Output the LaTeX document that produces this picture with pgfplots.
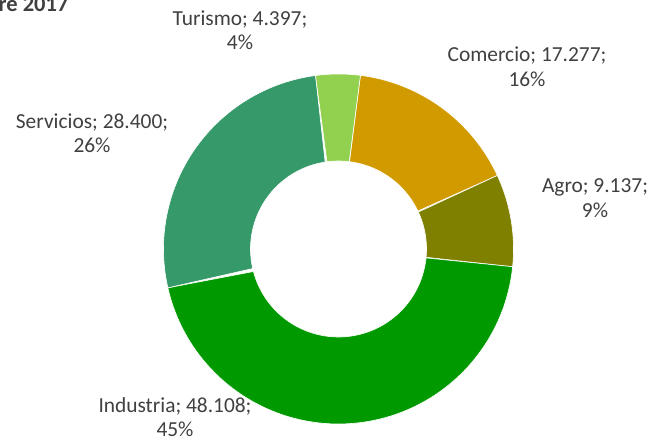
\documentclass[border=0pt]{standalone}
\usepackage{pgfplots}
\pgfplotsset{compat=1.18}
\usepackage{fontspec}
\setmainfont{Carlito}
\definecolor{cTur}{HTML}{92D050}
\definecolor{cCom}{HTML}{D19B00}
\definecolor{cAgr}{HTML}{808000}
\definecolor{cInd}{HTML}{009A00}
\definecolor{cSer}{HTML}{36996A}
\definecolor{txt}{HTML}{404040}
% data
\def\vCom{17.277}
\def\vAgr{9.137}
\def\vInd{48.108}
\def\vSer{28.400}
\def\vTur{4.397}
\def\startang{7.2}
\def\cx{338.5}\def\cy{193}\def\Ro{175}\def\Ri{88}
\newcommand\slice[3]{% start, end (deg clockwise from top), colour
  \addplot[fill=#3, draw=white, line width=0.6pt, domain=0:2, samples=161, variable=\t]
  ({\cx + ifthenelse(\t<=1.0001,\Ro,\Ri)*sin(ifthenelse(\t<=1.0001, #1+\t*(#2-#1), #2-(\t-1)*(#2-#1)))},
   {\cy + ifthenelse(\t<=1.0001,\Ro,\Ri)*cos(ifthenelse(\t<=1.0001, #1+\t*(#2-#1), #2-(\t-1)*(#2-#1)))}) -- cycle;
}
\newcommand\lab[5]{% x, y1, y2, line1, line2
  \node[anchor=base, text=txt, font=\fontsize{21.4}{24.5}\selectfont] at (axis cs:#1,#2) {#4};
  \node[anchor=base, text=txt, font=\fontsize{21.4}{24.5}\selectfont] at (axis cs:#1,#3) {#5};
}
\begin{document}
\begin{tikzpicture}
\pgfmathsetmacro\tot{\vCom+\vAgr+\vInd+\vSer+\vTur}
\pgfmathsetmacro\aA{\startang}
\pgfmathsetmacro\aB{\aA+360*(\vCom/\tot)}
\pgfmathsetmacro\aC{\aB+360*(\vAgr/\tot)}
\pgfmathsetmacro\aD{\aC+360*(\vInd/\tot)}
\pgfmathsetmacro\aE{\aD+360*(\vSer/\tot)}
\pgfmathsetmacro\aF{\aE+360*(\vTur/\tot)}
\begin{axis}[name=ax, scale only axis,
  width=652pt, height=442pt, xmin=0, xmax=652, ymin=0, ymax=442,
  hide axis, clip=false]
\slice{\aA}{\aB}{cCom}
\slice{\aB}{\aC}{cAgr}
\slice{\aC}{\aD}{cInd}
\slice{\aD}{\aE}{cSer}
\slice{\aE}{\aF}{cTur}
\lab{240}{416}{392}{Turismo; 4.397;}{4\%}
\lab{527}{380}{355}{Comercio; 17.277;}{16\%}
\lab{595}{249}{224}{Agro; 9.137;}{9\%}
\lab{92}{313}{289}{Servicios; 28.400;}{26\%}
\lab{175}{30}{6}{Industria; 48.108;}{45\%}
\node[anchor=base east, text=txt, font=\fontsize{22.5}{26}\selectfont\bfseries] at (axis cs:72,430) {Septiembre 2017};
\coordinate (bl) at (axis cs:0,0);
\coordinate (tr) at (axis cs:652,442);
\end{axis}
\pgfresetboundingbox
\path (bl) rectangle (tr);
\end{tikzpicture}%
\end{document}
